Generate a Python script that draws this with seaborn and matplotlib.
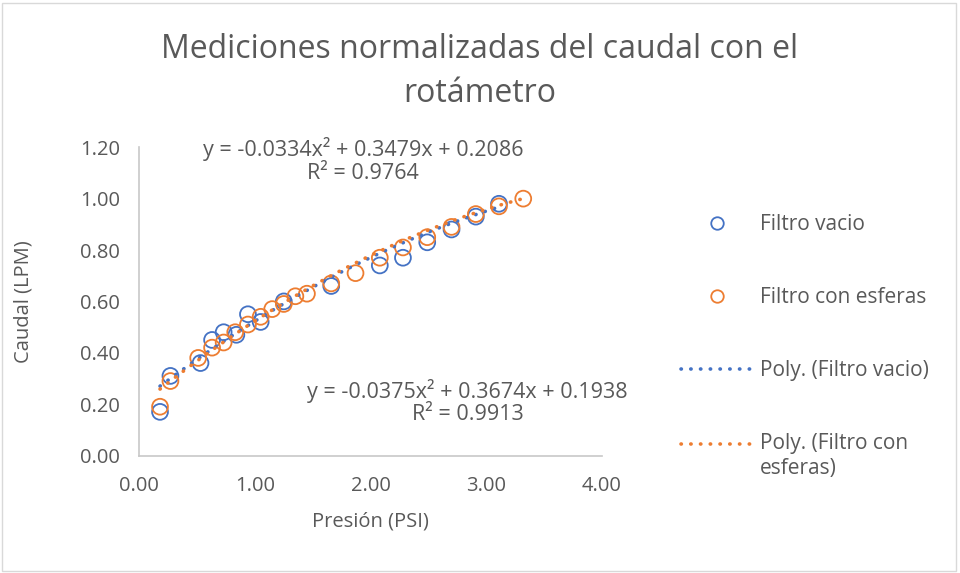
import numpy as np
import pandas as pd
import matplotlib.pyplot as plt
import seaborn as sns
from matplotlib.lines import Line2D
from matplotlib.patches import Rectangle
from matplotlib.legend_handler import HandlerLine2D

# data
x_vacio = [0.18, 0.27, 0.53, 0.63, 0.73, 0.84, 0.94, 1.05, 1.25, 1.66, 2.08, 2.28, 2.49, 2.70, 2.91, 3.11]
y_vacio = [0.17, 0.31, 0.36, 0.45, 0.48, 0.47, 0.55, 0.52, 0.60, 0.66, 0.74, 0.77, 0.83, 0.88, 0.93, 0.98]

x_esferas = [0.18, 0.27, 0.51, 0.63, 0.73, 0.83, 0.94, 1.05, 1.15, 1.25, 1.35, 1.45, 1.66, 1.87,
             2.08, 2.28, 2.49, 2.70, 2.91, 3.11, 3.32]
y_esferas = [0.19, 0.29, 0.38, 0.42, 0.44, 0.48, 0.51, 0.54, 0.57, 0.59, 0.62, 0.63, 0.67, 0.71,
             0.77, 0.81, 0.85, 0.89, 0.94, 0.97, 1.00]

# trendline coefficients shown on the chart
coef_vacio = [-0.0334, 0.3479, 0.2086]
coef_esferas = [-0.0375, 0.3674, 0.1938]

azul = '#4472C4'
naranja = '#ED7D31'
gris = '#595959'


# legend handle for the two-line label: put it next to the first line
class HandlerSube(HandlerLine2D):
    def create_artists(self, *args, **kwargs):
        arts = super().create_artists(*args, **kwargs)
        for a in arts:
            a.set_ydata(np.asarray(a.get_ydata()) + 9)
        return arts


sns.set_style('white')
plt.rcParams['font.family'] = ['Open Sans', 'DejaVu Sans']

fig = plt.figure(figsize=(9.6, 5.73), dpi=100)
ax = fig.add_axes([0.145, 0.205, 0.482, 0.538])

df_v = pd.DataFrame({'x': x_vacio, 'y': y_vacio})
df_e = pd.DataFrame({'x': x_esferas, 'y': y_esferas})

sns.scatterplot(data=df_v, x='x', y='y', ax=ax, s=130, facecolor='none',
                edgecolor=azul, linewidth=1.3, zorder=3)
sns.scatterplot(data=df_e, x='x', y='y', ax=ax, s=130, facecolor='none',
                edgecolor=naranja, linewidth=1.3, zorder=4)

# polynomial trendlines
xv = np.linspace(min(x_vacio), max(x_vacio), 200)
xe = np.linspace(min(x_esferas), max(x_esferas), 200)
tr_style = dict(linestyle=(0, (0.1, 2.6)), linewidth=2.6, dash_capstyle='round')
sns.lineplot(x=xv, y=np.polyval(coef_vacio, xv), ax=ax, color=azul, zorder=5, **tr_style)
sns.lineplot(x=xe, y=np.polyval(coef_esferas, xe), ax=ax, color=naranja, zorder=5, **tr_style)

ax.set_xlim(0, 4)
ax.set_ylim(0, 1.2)
ax.set_xticks([0, 1, 2, 3, 4])
ax.set_yticks(np.arange(0, 1.21, 0.2))
ax.set_xticklabels([f'{v:.2f}' for v in ax.get_xticks()])
ax.set_yticklabels([f'{v:.2f}' for v in ax.get_yticks()])
ax.tick_params(colors=gris, labelsize=14.5, length=0)
ax.tick_params(axis='x', pad=15)
ax.tick_params(axis='y', pad=14)
ax.set_xlabel('Presión (PSI)', fontsize=14.5, color=gris, labelpad=11)
ax.set_ylabel('Caudal (LPM)', fontsize=14.5, color=gris, labelpad=33)
for s in ['top', 'right']:
    ax.spines[s].set_visible(False)
for s in ['left', 'bottom']:
    ax.spines[s].set_color('#c8c8c8')
    ax.spines[s].set_linewidth(1.2)
ax.patch.set_alpha(0)

ax.text(1.935, 1.148, 'y = -0.0334x² + 0.3479x + 0.2086\nR² = 0.9764', ha='center', va='center',
        fontsize=15.5, color=gris, linespacing=1.1)
ax.text(2.84, 0.208, 'y = -0.0375x² + 0.3674x + 0.1938\nR² = 0.9913', ha='center', va='center',
        fontsize=15.5, color=gris, linespacing=1.1)

fig.suptitle('Mediciones normalizadas del caudal con el\nrotámetro', fontsize=23, color=gris,
             y=0.942, linespacing=1.45)

handles = [
    Line2D([], [], linestyle='none', marker='o', markersize=9, markerfacecolor='none',
           markeredgecolor=azul, markeredgewidth=1.3),
    Line2D([], [], linestyle='none', marker='o', markersize=9, markerfacecolor='none',
           markeredgecolor=naranja, markeredgewidth=1.3),
    Line2D([], [], color=azul, **tr_style),
    Line2D([], [], color=naranja, **tr_style),
]
labels = ['Filtro vacio', 'Filtro con esferas', 'Poly. (Filtro vacio)', 'Poly. (Filtro con\nesferas)']
leg = fig.legend(handles, labels, loc='upper left', bbox_to_anchor=(0.690, 0.659), frameon=False,
                 fontsize=15, labelspacing=2.5, handlelength=3.4, handletextpad=0.4,
                 handler_map={handles[3]: HandlerSube()})
for t in leg.get_texts():
    t.set_color(gris)

fig.patches.append(Rectangle((0.002, 0.004), 0.994, 0.99, transform=fig.transFigure,
                             fill=False, edgecolor='#d9d9d9', linewidth=1))

fig.savefig('out.png', dpi=100)
